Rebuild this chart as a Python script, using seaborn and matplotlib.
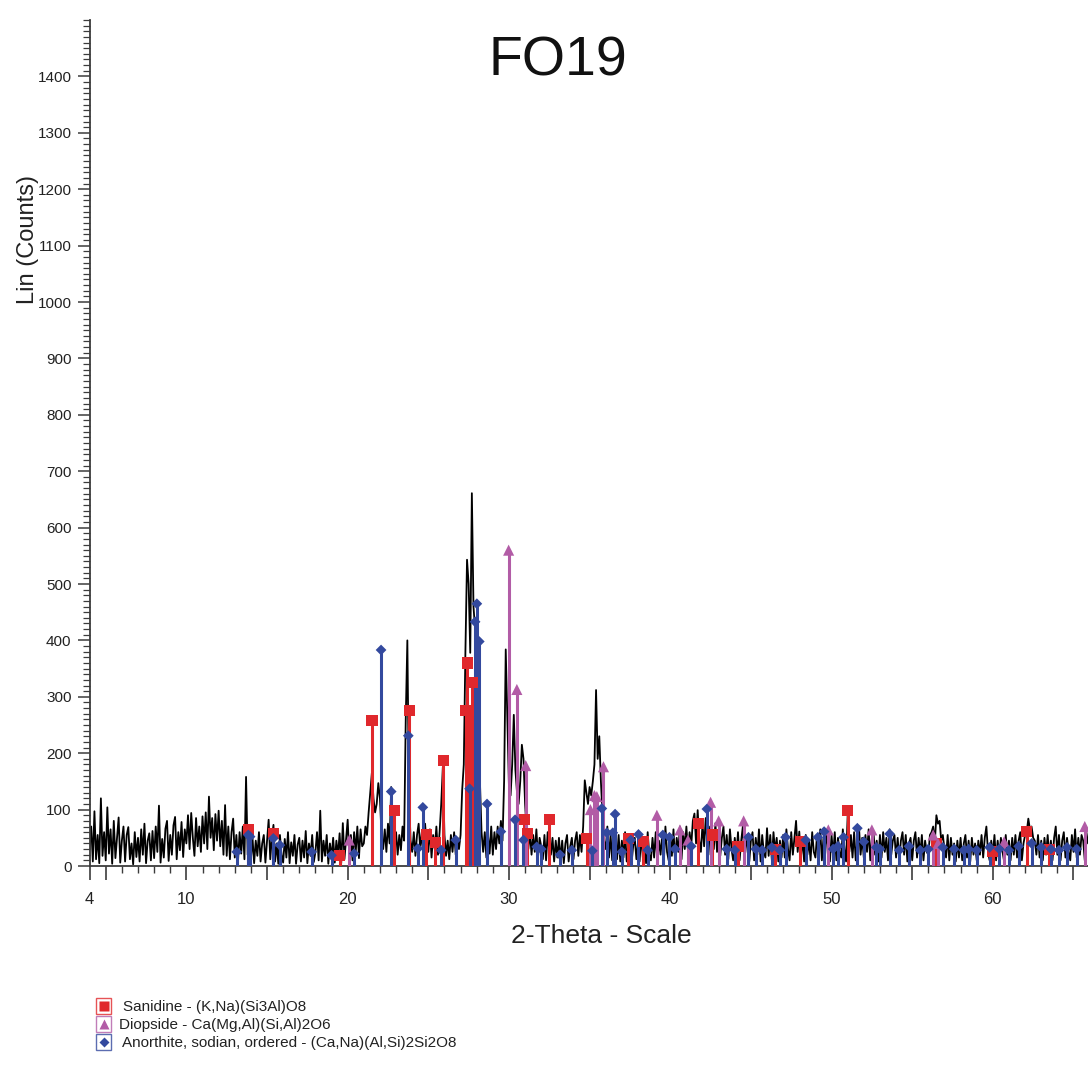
import numpy as np
import pandas as pd
import matplotlib
matplotlib.use("Agg")
import matplotlib.pyplot as plt
from matplotlib.ticker import FixedLocator, MultipleLocator, FuncFormatter
from matplotlib.patches import Rectangle
import seaborn as sns

# ---------------- data ----------------
theta_start = 4.0
theta_step = 0.1
# counts, one row per degree (x.0 ... x.9), from 4.0 to 65.9
counts_rows = [
    [30, 70, 8, 97, 12, 55, 5, 120, 18, 60],        # 4
    [10, 104, 22, 65, 4, 80, 14, 50, 86, 6],        # 5
    [45, 70, 8, 55, 69, 12, 40, 3, 60, 16],         # 6
    [50, 8, 65, 20, 75, 5, 45, 58, 10, 62],         # 7
    [14, 70, 25, 107, 6, 48, 15, 66, 80, 9],        # 8
    [55, 20, 72, 87, 12, 60, 28, 78, 16, 65],       # 9
    [40, 90, 30, 94, 50, 18, 85, 35, 70, 25],       # 10
    [88, 40, 95, 30, 123, 50, 85, 28, 92, 45],      # 11
    [98, 35, 80, 20, 108, 18, 70, 12, 60, 84],      # 12
    [15, 55, 8, 60, 22, 70, 12, 158, 20, 65],       # 13
    [12, 50, 5, 45, 18, 60, 8, 40, 55, 6],          # 14
    [45, 82, 12, 50, 73, 8, 40, 4, 55, 20],         # 15
    [6, 48, 15, 60, 5, 42, 18, 55, 4, 38],          # 16
    [50, 8, 45, 15, 62, 5, 40, 18, 55, 7],          # 17
    [25, 60, 10, 98, 8, 45, 18, 55, 4, 40],         # 18
    [15, 50, 6, 45, 18, 58, 5, 76, 12, 48],         # 19
    [82, 18, 55, 10, 60, 25, 70, 14, 65, 35],       # 20
    [40, 70, 55, 95, 130, 165, 120, 95, 110, 147],  # 21
    [120, 55, 30, 65, 25, 75, 40, 140, 50, 30],     # 22
    [60, 20, 55, 28, 70, 45, 260, 400, 130, 45],    # 23
    [25, 60, 18, 55, 75, 30, 60, 20, 75, 35],       # 24
    [25, 65, 15, 55, 30, 70, 20, 60, 110, 175],     # 25
    [55, 18, 45, 12, 55, 25, 60, 20, 50, 30],       # 26
    [55, 135, 180, 380, 543, 500, 378, 661, 460, 420],  # 27
    [400, 390, 150, 60, 25, 60, 15, 55, 22, 70],    # 28
    [20, 60, 30, 70, 40, 80, 45, 150, 384, 260],    # 29
    [140, 125, 180, 268, 170, 130, 110, 150, 215, 190],  # 30
    [110, 60, 30, 60, 20, 55, 25, 65, 15, 50],      # 31
    [35, 12, 55, 10, 60, 25, 20, 50, 8, 45],        # 32
    [15, 50, 10, 45, 5, 40, 55, 8, 35, 50],         # 33
    [12, 45, 60, 18, 55, 25, 70, 152, 130, 110],    # 34
    [140, 125, 150, 180, 312, 190, 230, 150, 90, 45],  # 35
    [30, 70, 15, 55, 10, 60, 25, 12, 55, 8],        # 36
    [45, 15, 60, 8, 40, 55, 5, 35, 50, 12],         # 37
    [40, 8, 55, 15, 45, 5, 60, 20, 10, 50],         # 38
    [15, 60, 8, 45, 20, 55, 5, 70, 25, 10],         # 39
    [55, 18, 65, 8, 50, 25, 70, 12, 60, 30],        # 40
    [70, 25, 60, 35, 80, 93, 40, 99, 45, 25],       # 41
    [75, 35, 85, 40, 70, 20, 65, 30, 76, 25],       # 42
    [60, 18, 50, 70, 20, 55, 12, 65, 30, 10],       # 43
    [50, 18, 60, 10, 45, 70, 15, 55, 25, 8],        # 44
    [45, 60, 10, 50, 20, 65, 8, 55, 25, 15],        # 45
    [67, 18, 55, 10, 60, 25, 50, 8, 45, 15],        # 46
    [55, 15, 65, 30, 10, 60, 20, 50, 80, 25],       # 47
    [61, 15, 50, 8, 55, 20, 45, 10, 60, 25],        # 48
    [15, 55, 25, 65, 10, 50, 20, 60, 30, 8],        # 49
    [55, 20, 60, 10, 50, 25, 15, 65, 30, 8],        # 50
    [90, 25, 55, 15, 60, 10, 45, 70, 20, 50],       # 51
    [15, 55, 25, 65, 10, 50, 60, 20, 45, 8],        # 52
    [55, 15, 60, 25, 50, 10, 65, 20, 45, 55],       # 53
    [15, 50, 10, 45, 60, 20, 55, 8, 40, 50],        # 54
    [10, 45, 60, 15, 50, 20, 55, 10, 45, 25],       # 55
    [20, 55, 60, 70, 40, 90, 75, 80, 45, 55],       # 56
    [30, 15, 55, 10, 50, 20, 40, 8, 45, 15],        # 57
    [50, 10, 40, 55, 15, 45, 8, 50, 20, 40],        # 58
    [10, 45, 20, 55, 15, 50, 70, 25, 10, 45],       # 59
    [20, 55, 10, 45, 15, 50, 25, 8, 55, 20],        # 60
    [45, 10, 50, 20, 55, 15, 45, 60, 10, 40],       # 61
    [55, 60, 84, 65, 70, 50, 45, 20, 55, 15],       # 62
    [45, 10, 50, 20, 55, 15, 45, 10, 50, 70],       # 63
    [20, 55, 10, 45, 60, 15, 50, 25, 10, 55],       # 64
    [25, 65, 15, 50, 20, 55, 45, 10, 60, 40],       # 65
]

sanidine_pos = [13.84, 15.39, 19.5, 21.51, 22.88, 23.83, 24.86, 25.42, 25.93,
                27.33, 27.42, 27.5, 27.72, 30.96, 31.14, 32.49, 34.82, 37.4,
                38.33, 41.75, 42.6, 44.2, 46.5, 48.05, 50.99, 56.5, 60.0, 62.1, 63.5]
sanidine_int = [64, 58, 19, 258, 99, 275, 56, 41, 187,
                275, 360, 275, 326, 83, 58, 83, 49, 49,
                43, 76, 55, 34, 30, 43, 99, 40, 25, 61, 30]

diopside_pos = [20.1, 29.98, 30.49, 31.04, 35.05, 35.3, 35.45, 35.86, 39.17,
                40.6, 41.1, 42.5, 43.0, 44.55, 49.8, 52.5, 56.3, 56.6, 60.7, 65.7]
diopside_int = [46, 560, 313, 178, 100, 125, 123, 176, 90,
                64, 46, 113, 80, 80, 64, 64, 55, 40, 43, 70]

anorthite_pos = [13.12, 13.84, 13.95, 15.39, 15.8, 17.77, 19.0, 20.4, 22.07, 22.7,
                 23.76, 24.35, 24.66, 25.8, 26.7, 27.56, 27.9, 28.01, 28.16, 28.64,
                 29.5, 30.38, 30.9, 31.72, 32.0, 33.17, 33.9, 35.17, 35.76, 36.07,
                 36.44, 36.58, 37.0, 37.55, 38.03, 38.6, 39.54, 39.95, 40.3, 41.3,
                 42.27, 43.5, 44.0, 44.85, 45.3, 45.7, 46.3, 46.8, 47.15, 48.4,
                 49.15, 49.54, 50.1, 50.4, 50.74, 51.6, 52.0, 52.77, 53.0, 53.6,
                 54.2, 54.8, 55.5, 56.0, 56.9, 57.6, 58.2, 58.5, 59.0, 59.8,
                 60.4, 61.0, 61.6, 62.4, 63.0, 63.6, 64.1, 64.6, 65.2]
anorthite_int = [25, 55, 52, 49, 37, 25, 19, 22, 383, 132,
                 231, 31, 104, 28, 46, 137, 433, 465, 398, 110,
                 61, 82, 46, 34, 30, 20, 28, 27, 102, 59,
                 59, 92, 25, 46, 56, 28, 55, 51, 30, 35,
                 101, 30, 28, 51, 30, 28, 33, 28, 51, 46,
                 51, 61, 30, 35, 51, 67, 43, 33, 30, 57,
                 28, 35, 28, 30, 33, 30, 28, 30, 28, 33,
                 30, 28, 35, 40, 33, 30, 28, 33, 30]

phase_labels = ["Sanidine - (K,Na)(Si3Al)O8",
                "Diopside - Ca(Mg,Al)(Si,Al)2O6",
                "Anorthite, sodian, ordered - (Ca,Na)(Al,Si)2Si2O8"]
title_text = "FO19"
xlabel_text = "2-Theta - Scale"
ylabel_text = "Lin (Counts)"

# ---------------- figure ----------------
sns.set_style("white")
plt.rcParams["font.family"] = ["Liberation Sans", "DejaVu Sans"]

W, H = 1088, 1065
fig = plt.figure(figsize=(W / 100, H / 100), dpi=100)
ax_left, ax_right = 89.6, 1088
ax_bottom, ax_top = 866, 20
ax = fig.add_axes([ax_left / W, (H - ax_bottom) / H,
                   (ax_right - ax_left) / W, (ax_bottom - ax_top) / H])

counts = np.array(counts_rows, dtype=float).ravel()
theta = theta_start + theta_step * np.arange(counts.size)
df = pd.DataFrame({"theta": theta, "counts": counts})

sns.lineplot(data=df, x="theta", y="counts", color="black", lw=1.3,
             estimator=None, sort=False, ax=ax, zorder=2)

c_red = "#E0282C"
c_pur = "#B25CA6"
c_blu = "#33499E"

phases = [
    (sanidine_pos, sanidine_int, c_red, "s", 64),
    (diopside_pos, diopside_int, c_pur, "^", 64),
    (anorthite_pos, anorthite_int, c_blu, "D", 30),
]
for pos, inten, col, mk, ms in phases:
    ax.vlines(pos, 0, inten, colors=col, lw=2.2, zorder=3)
    sdf = pd.DataFrame({"x": pos, "y": inten})
    sns.scatterplot(data=sdf, x="x", y="y", marker=mk, s=ms, color=col,
                    edgecolor="none", linewidth=0, ax=ax, zorder=4, clip_on=False)

ax.set_xlim(4, 65.9)
ax.set_ylim(0, 1500)
ax.set_xlabel("")
ax.set_ylabel("")

spine_col = "#3c3c3c"
for s in ["top", "right"]:
    ax.spines[s].set_visible(False)
for s in ["left", "bottom"]:
    ax.spines[s].set_color(spine_col)
    ax.spines[s].set_linewidth(1.3)

xmaj = [4] + list(range(5, 66, 5))
ax.xaxis.set_major_locator(FixedLocator(xmaj))
ax.xaxis.set_major_formatter(FuncFormatter(
    lambda v, p: (f"{int(round(v))}" if (abs(v - 4) < 1e-6 or int(round(v)) % 10 == 0) else "")))
ax.xaxis.set_minor_locator(MultipleLocator(1))
ax.yaxis.set_major_locator(FixedLocator(list(range(0, 1401, 100))))
ax.yaxis.set_minor_locator(MultipleLocator(10))

ax.tick_params(axis="x", which="major", direction="out", length=10, width=1.2,
               color=spine_col, labelsize=12, pad=9, labelcolor="#222222")
ax.tick_params(axis="x", which="minor", direction="out", length=5, width=1.0,
               color=spine_col)
ax.tick_params(axis="y", which="major", direction="out", length=9, width=1.1,
               color=spine_col, labelsize=11, pad=4, labelcolor="#222222")
ax.tick_params(axis="y", which="minor", direction="out", length=5, width=0.9,
               color=spine_col)
ax.tick_params(bottom=True, left=True, which="both")

def fx(px):
    return px / W

def fy(py):
    return 1 - py / H

fig.text(fx(558), fy(62), title_text, fontsize=40, ha="center", va="center", color="#111111")
fig.text(fx(601), fy(936), xlabel_text, fontsize=19, ha="center", va="center", color="#222222")
fig.text(fx(28), fy(240), ylabel_text, fontsize=17, ha="center", va="center",
         rotation=90, color="#222222")

# legend drawn in a pixel-coordinate overlay axes
lax = fig.add_axes([0, 0, 1, 1], zorder=5)
lax.set_xlim(0, W)
lax.set_ylim(H, 0)
lax.axis("off")
leg_items = [
    (c_red, "s", 7.5, 1006, 123),
    (c_pur, "^", 7.5, 1024, 119),
    (c_blu, "D", 5.0, 1042, 122),
]
for (col, mk, msz, yc, tx), lab in zip(leg_items, phase_labels):
    lax.add_patch(Rectangle((96, yc - 8), 15, 16, fill=False, edgecolor=col,
                            lw=1.0, alpha=0.8))
    lax.plot([103.5], [yc], marker=mk, ms=msz, color=col, mec="none", ls="none")
    lax.text(tx, yc + 1, lab, fontsize=11, ha="left", va="center", color="#222222")

fig.savefig("out.png", dpi=100)
